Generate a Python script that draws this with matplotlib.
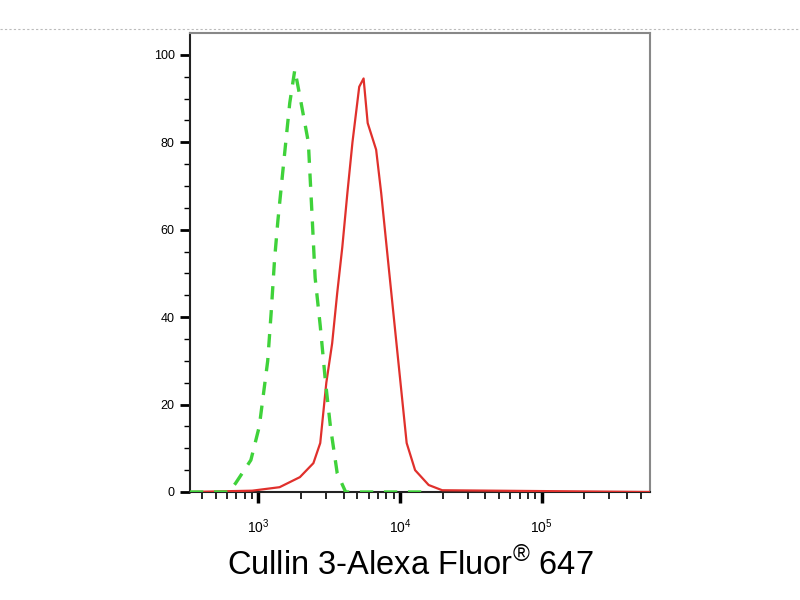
import matplotlib
matplotlib.use("Agg")
import matplotlib.pyplot as plt
from matplotlib.lines import Line2D
from matplotlib.ticker import FixedLocator, NullFormatter
import numpy as np

plt.rcParams["font.family"] = ["Liberation Sans", "DejaVu Sans"]
plt.rcParams["mathtext.fontset"] = "custom"
plt.rcParams["mathtext.rm"] = "Liberation Sans"

# isotype control (green dashed)
iso_x = [330, 620, 692, 887, 1017, 1166, 1233, 1302, 1375, 1494, 1668, 1811,
         1967, 2256, 2386, 2519, 2737, 2972, 3228, 3605, 4136, 15000]
iso_y = [0, 0, 2.0, 7.3, 15, 30, 41, 53, 62, 73.7, 89, 96.6,
         90.5, 80, 64.5, 49, 38, 25.6, 15, 4.3, 0, 0]

# Cullin 3 stained (red solid)
cul_x = [330, 906, 1414, 1967, 2449, 2737, 3021, 3321, 3605, 3916, 4253, 4619,
         5155, 5534, 5914, 6785, 7365, 8227, 9183, 10256, 11140, 12774,
         15924, 19843, 600000]
cul_y = [0, 0.3, 1.1, 3.4, 6.6, 11.2, 25, 34, 45.5, 56, 68.4, 80,
         92.7, 94.6, 84.4, 78.3, 68.4, 53, 37.8, 22.6, 11.2, 5.0,
         1.6, 0.4, 0]

x_major = [1e3, 1e4, 1e5]
x_minor = [400, 500, 600, 700, 800, 900] + \
          [k * 1e3 for k in range(2, 10)] + \
          [k * 1e4 for k in range(2, 10)] + \
          [k * 1e5 for k in range(2, 6)]
x_labels = ["$10^3$", "$10^4$", "$10^5$"]

fig = plt.figure(figsize=(8, 6), dpi=100)
ax = fig.add_axes([0.2375, 0.18, 0.575, 0.765])

ax.plot(cul_x, cul_y, color="#e0302c", lw=1.6, zorder=3)
ax.plot(iso_x, iso_y, color="#3fd23a", lw=2.4, ls=(0, (4, 3.2)), zorder=4)

ax.set_xscale("log")
ax.set_xlim(330, 5.8e5)
ax.set_ylim(0, 105)

ax.xaxis.set_major_locator(FixedLocator(x_major))
ax.xaxis.set_minor_locator(FixedLocator(x_minor))
ax.xaxis.set_minor_formatter(NullFormatter())
ax.set_xticklabels(x_labels, fontsize=10)
ax.set_yticks([0, 20, 40, 60, 80, 100])
ax.set_yticks(np.arange(0, 105, 5), minor=True)
ax.tick_params(axis="y", which="major", length=7, width=2, labelsize=9, pad=4)
ax.tick_params(axis="y", which="minor", length=4, width=1)
ax.tick_params(axis="x", which="major", length=8, width=2.5, pad=10)
ax.tick_params(axis="x", which="minor", length=5, width=1.2)

for side in ["top", "right"]:
    ax.spines[side].set_color("#888888")
    ax.spines[side].set_linewidth(1.5)
for side in ["left", "bottom"]:
    ax.spines[side].set_color("#222222")
    ax.spines[side].set_linewidth(1.5)

ax.set_xlabel("Cullin 3-Alexa Fluor$^{\u00ae}$ 647", fontsize=23.5)
ax.xaxis.set_label_coords(0.478, -0.12)

# faint dashed rule across the top of the image
fig.add_artist(Line2D([0, 1], [0.951, 0.951], transform=fig.transFigure,
                      color="#bbbbbb", lw=0.8, ls=(0, (2, 2))))

fig.savefig("out.png", dpi=100)
